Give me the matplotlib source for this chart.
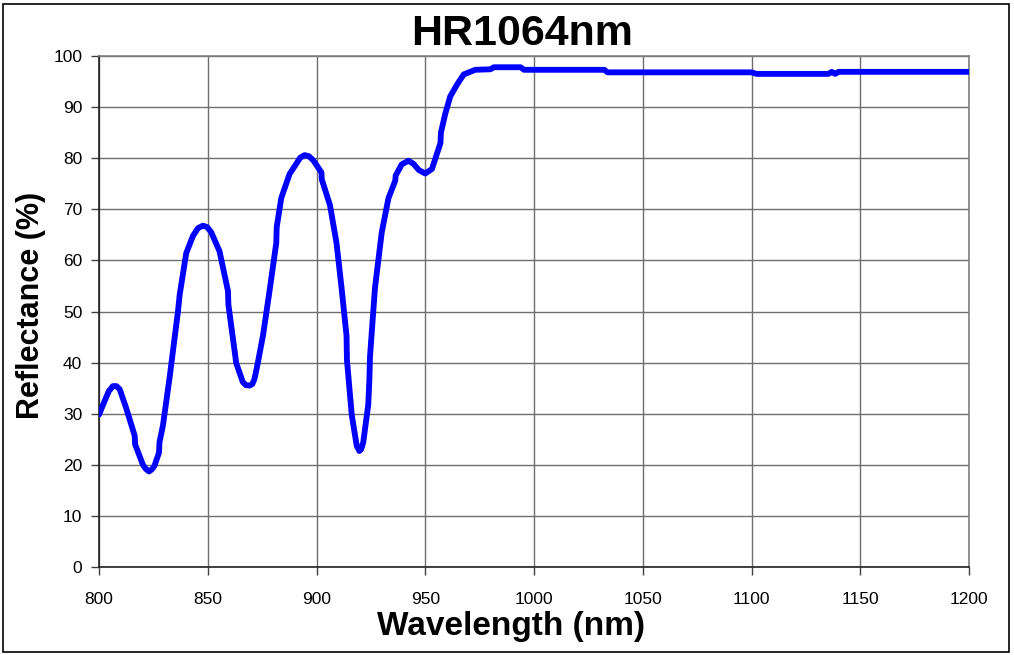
import matplotlib
matplotlib.use('Agg')
import matplotlib.pyplot as plt
from matplotlib.patches import Rectangle

# wavelength (nm) and reflectance (%)
wavelength = [800, 802.6, 804.5, 806.4, 808, 809.5, 812.5, 816.4, 816.6, 820.2,
              821.5, 823, 824.3, 825.5, 827.6, 827.8, 829.4, 832.5, 836.3, 837.1,
              840.1, 843.2, 845.5, 847.8, 849.8, 851.6, 855.4, 859.3, 859.5, 863.1,
              866.1, 867.5, 869.2, 870.5, 871.5, 873, 875.4, 878.4, 881.5, 881.7,
              883.8, 887.6, 890.7, 892.5, 894.5, 896.5, 898.5, 902.3, 902.4, 906.2,
              909.2, 911.5, 913.8, 914, 916.2, 918.5, 919.7, 920.5, 921.5, 923.8,
              924.3, 924.6, 926.9, 930, 933.1, 936.2, 936.4, 939.2, 942.3, 944.6,
              947, 950, 953.1, 955.4, 957, 957.2, 959.2, 961.5, 964.6, 967.7,
              973, 980, 981.5, 993.8, 995.4, 1032.3, 1033.8, 1100, 1102.3, 1135.4,
              1136.9, 1138.5, 1140, 1200]
reflectance = [29.8, 32.5, 34.4, 35.4, 35.4, 34.8, 31.1, 25.7, 24.0, 20.0,
               19.2, 18.7, 19.1, 19.8, 22.4, 24.4, 27.7, 37.2, 50.0, 53.3,
               61.4, 64.8, 66.3, 66.8, 66.5, 65.5, 61.8, 54.0, 51.3, 39.9,
               36.2, 35.6, 35.5, 35.8, 36.8, 39.9, 45.3, 54.0, 63.4, 66.5,
               72.2, 76.9, 78.9, 80.1, 80.6, 80.4, 79.6, 77.2, 75.9, 70.8,
               63.4, 54.7, 45.3, 40.5, 29.8, 23.7, 22.7, 23.0, 24.4, 31.8,
               36.5, 41.2, 54.7, 65.5, 72.2, 75.6, 76.6, 78.8, 79.5, 78.9,
               77.7, 77.0, 77.9, 80.9, 83.0, 85.0, 88.7, 92.1, 94.4, 96.4,
               97.3, 97.4, 97.8, 97.8, 97.3, 97.3, 96.8, 96.8, 96.5, 96.5,
               96.9, 96.5, 96.9, 96.9]

x_ticks = [800, 850, 900, 950, 1000, 1050, 1100, 1150, 1200]
y_ticks = [0, 10, 20, 30, 40, 50, 60, 70, 80, 90, 100]

plt.rcParams['font.family'] = ['Liberation Sans', 'DejaVu Sans']

W, H = 1014, 655
fig = plt.figure(figsize=(W / 100, H / 100), dpi=100)
ax = fig.add_axes([99 / W, (H - 567) / H, 870 / W, 511 / H])

ax.plot(wavelength, reflectance, color='#0000FF', lw=4.2,
        solid_capstyle='round', solid_joinstyle='round', zorder=3)

ax.set_xlim(800, 1200)
ax.set_ylim(0, 100)
ax.set_xticks(x_ticks)
ax.set_yticks(y_ticks)
ax.grid(True, color='#6e6e6e', lw=1.0)
ax.set_axisbelow(True)
ax.tick_params(axis='both', direction='out', length=6, width=1,
               color='#404040', labelsize=12.5)
ax.tick_params(axis='x', pad=12)
ax.tick_params(axis='y', pad=6)

for s in ['top', 'right']:
    ax.spines[s].set_color('#808080')
    ax.spines[s].set_linewidth(1.2)
for s in ['left', 'bottom']:
    ax.spines[s].set_color('#202020')
    ax.spines[s].set_linewidth(1.2)

fig.text(522 / W, 1 - 34 / H, 'HR1064nm', ha='center', va='center',
         fontsize=31, fontweight='bold')
fig.text(511 / W, 1 - 626 / H, 'Wavelength (nm)', ha='center', va='center',
         fontsize=24, fontweight='bold')
fig.text(31 / W, 1 - 305 / H, 'Reflectance (%)', ha='center', va='center',
         rotation=90, fontsize=22, fontweight='bold')

fig.patches.append(Rectangle((3 / W, 3 / H), 1006 / W, 648 / H,
                             transform=fig.transFigure, fill=False,
                             edgecolor='black', lw=1.2))

fig.savefig('out.png', dpi=100)
